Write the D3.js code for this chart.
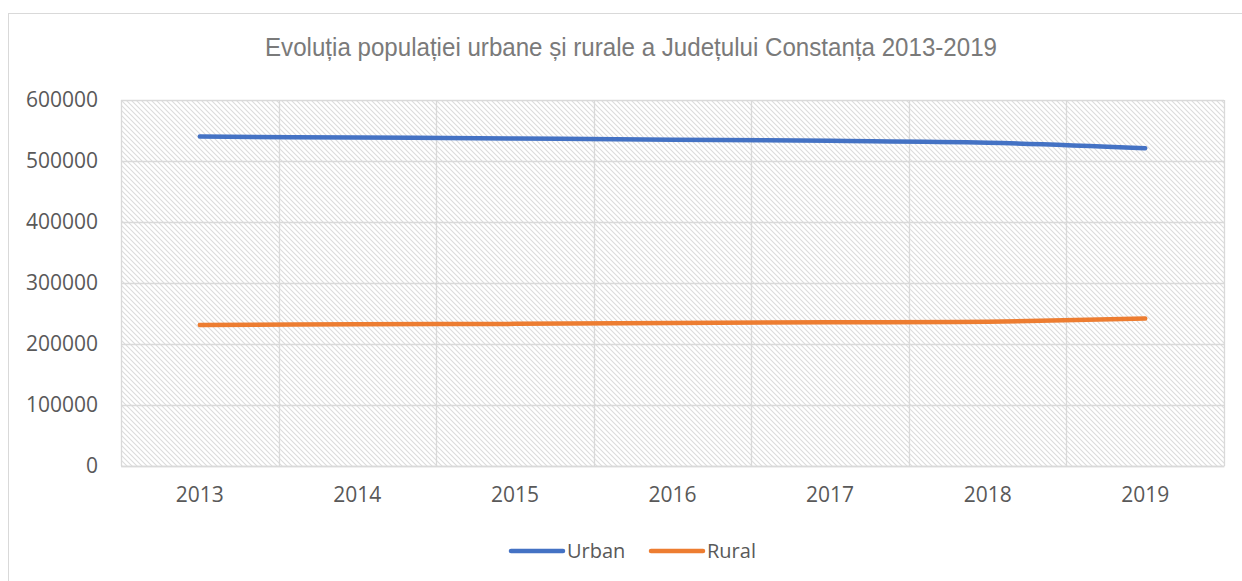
<!DOCTYPE html>
<html>
<head>
<meta charset="utf-8">
<script src="https://cdn.jsdelivr.net/npm/d3@7"></script>
<style>
  body { margin: 0; background: #fff; }
  text { font-family: "Open Sans", "Noto Sans", sans-serif; }
</style>
</head>
<body>
<div id="chart"></div>
<script>
// Chart data
var years = ["2013", "2014", "2015", "2016", "2017", "2018", "2019"];
var urban = [540000, 538500, 537000, 535000, 533000, 530000, 521000];
var rural = [231000, 232500, 233000, 234500, 235500, 236500, 242000];
var yTicks = [0, 100000, 200000, 300000, 400000, 500000, 600000];
var seriesNames = ["Urban", "Rural"];
var seriesColors = ["#4472c4", "#ed7d31"];
var title = "Evoluția populației urbane și rurale a Județului Constanța 2013-2019";

var svgWidth = 1242;
var svgHeight = 581;
var margin = { top: 100, right: 18, bottom: 115, left: 121 };
var chartWidth = 1224 - margin.left;
var chartHeight = 466 - margin.top;

var svg = d3.select("#chart")
    .append("svg")
    .attr("width", svgWidth)
    .attr("height", svgHeight);

// hatch pattern for the plot area
var pattern = svg.append("defs").append("pattern")
    .attr("id", "hatch")
    .attr("patternUnits", "userSpaceOnUse")
    .attr("width", 5)
    .attr("height", 5);
pattern.append("path")
    .attr("d", "M-1,-1 L6,6 M-1,4 L1,6 M4,-1 L6,1")
    .attr("stroke", "#dcdcdc")
    .attr("stroke-width", 1.1);

// outer chart border
svg.append("rect")
    .attr("x", 8.5).attr("y", 13.5)
    .attr("width", 1260).attr("height", 600)
    .attr("fill", "none")
    .attr("stroke", "#d9d9d9");

var chartGroup = svg.append("g")
    .attr("transform", `translate(${margin.left}, ${margin.top})`);

var xScale = d3.scaleBand()
    .domain(years)
    .range([0, chartWidth]);

var yScale = d3.scaleLinear()
    .domain([0, 600000])
    .range([chartHeight, 0]);

chartGroup.append("rect")
    .attr("width", chartWidth)
    .attr("height", chartHeight)
    .attr("fill", "url(#hatch)");

// gridlines
chartGroup.append("g")
    .selectAll("line")
    .data(yTicks)
    .join("line")
    .attr("x1", 0).attr("x2", chartWidth)
    .attr("y1", d => Math.round(yScale(d)) + 0.5)
    .attr("y2", d => Math.round(yScale(d)) + 0.5)
    .attr("stroke", "#d9d9d9")
    .attr("stroke-width", 1.3);

var bounds = years.map(d => xScale(d)).concat([chartWidth]);
chartGroup.append("g")
    .selectAll("line")
    .data(bounds)
    .join("line")
    .attr("x1", d => Math.round(d) + 0.5).attr("x2", d => Math.round(d) + 0.5)
    .attr("y1", 0).attr("y2", chartHeight)
    .attr("stroke", "#d9d9d9")
    .attr("stroke-width", 1.3);

// axes
var leftAxis = d3.axisLeft(yScale).tickValues(yTicks).tickSize(0).tickPadding(23)
    .tickFormat(d3.format("d"));
var bottomAxis = d3.axisBottom(xScale).tickSize(0).tickPadding(21);

var yAxisG = chartGroup.append("g").call(leftAxis);
yAxisG.select(".domain").remove();
yAxisG.selectAll("text")
    .style("font-size", "21px")
    .attr("fill", "#595959");

var xAxisG = chartGroup.append("g")
    .attr("transform", `translate(0, ${chartHeight})`)
    .call(bottomAxis);
xAxisG.select(".domain").attr("stroke", "#d9d9d9").attr("stroke-width", 1.3);
xAxisG.selectAll("text")
    .style("font-size", "21px")
    .attr("fill", "#595959");

// lines
var line = d3.line()
    .x((d, i) => xScale(years[i]) + xScale.bandwidth() / 2)
    .y(d => yScale(d))
    .curve(d3.curveCatmullRom.alpha(0.5));

[urban, rural].forEach((values, i) => {
    chartGroup.append("path")
        .datum(values)
        .attr("d", line)
        .attr("fill", "none")
        .attr("stroke", seriesColors[i])
        .attr("stroke-width", 4.5)
        .attr("stroke-linecap", "round");
});

// title
svg.append("text")
    .attr("x", 631)
    .attr("y", 56)
    .attr("text-anchor", "middle")
    .attr("fill", "#7a7a7a")
    .style("font-family", "'Liberation Sans Narrow', 'Liberation Sans', sans-serif")
    .style("font-size", "25px")
    .attr("textLength", 732)
    .attr("lengthAdjust", "spacingAndGlyphs")
    .text(title);

// legend
var legendX = [510, 650];
var legend = svg.append("g");
seriesNames.forEach((name, i) => {
    legend.append("line")
        .attr("x1", legendX[i] + 1).attr("x2", legendX[i] + 53)
        .attr("y1", 551).attr("y2", 551)
        .attr("stroke", seriesColors[i])
        .attr("stroke-width", 4.5)
        .attr("stroke-linecap", "round");
    legend.append("text")
        .attr("x", legendX[i] + 57)
        .attr("y", 558)
        .attr("fill", "#595959")
        .style("font-size", "20px")
        .text(name);
});
</script>
</body>
</html>
